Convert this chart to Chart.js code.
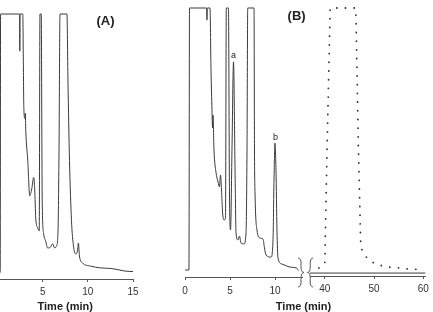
<!DOCTYPE html>
<html>
<head>
<meta charset="utf-8">
<script src="https://cdn.jsdelivr.net/npm/chart.js@4.4.1/dist/chart.umd.min.js"></script>
<style>
  html, body { margin: 0; padding: 0; background: #fff; overflow: hidden; width: 433px; height: 312px; }
  canvas { position: absolute; top: 0; }
</style>
</head>
<body>
<canvas id="chartA" width="200" height="314" style="left:-10px"></canvas>
<canvas id="chartB1" width="433" height="314" style="left:0"></canvas>
<canvas id="chartB2" width="433" height="314" style="left:0"></canvas>
<script>
// panel A - time (min) and detector signal (% of full scale, 100 = off scale)
const timeA = [0.2, 0.3, 0.34, 2.44, 2.47, 2.5, 2.8, 2.86, 2.91, 3.02, 3.08, 3.13, 3.35, 3.57, 3.79, 4.01, 4.12, 4.23, 4.45, 4.62, 4.70, 4.84, 4.95, 5.11, 5.33, 5.55, 5.88, 6.1, 6.32, 6.54, 6.7, 6.81, 6.92, 7.69, 7.8, 7.97, 8.19, 8.41, 8.63, 8.85, 8.96, 9.07, 9.4, 10.27, 11.37, 12.47, 13.24, 14.1, 15.0];
const signalA = [2.5, 2.5, 100, 100, 86, 100, 100, 82.6, 65.5, 60.6, 62.5, 56, 44.7, 31.4, 34, 38.3, 34, 23.1, 19.3, 18.2, 100, 100, 29.5, 17, 14.4, 11.7, 12.1, 13.3, 11.7, 12.5, 18.2, 48.5, 100, 100, 75, 44.7, 22, 12.5, 9.5, 10.6, 13.6, 8.7, 6.1, 4.9, 4.2, 4.0, 3.6, 3.0, 2.8];

// panel B, first part (0-13 min)
const timeB = [0, 0.44, 0.5, 2.4, 2.44, 2.48, 2.78, 2.89, 3.0, 3.06, 3.11, 3.22, 3.44, 3.67, 3.83, 3.94, 4.06, 4.17, 4.33, 4.5, 4.59, 4.83, 4.94, 5.06, 5.22, 5.39, 5.56, 5.67, 5.89, 6.06, 6.22, 6.56, 6.78, 6.89, 6.97, 7.67, 7.72, 7.78, 8.0, 8.33, 8.67, 8.83, 9.0, 9.56, 9.78, 9.89, 10.0, 10.11, 10.22, 10.33, 10.78, 11.67, 12.4, 12.6];
const signalB = [2.6, 2.6, 100, 100, 95.5, 100, 100, 77, 62, 55.4, 60.2, 47.2, 39, 35.3, 33.5, 37.9, 32.3, 24.2, 21.2, 21.9, 100, 100, 32.3, 17.5, 47.2, 80, 39.8, 16.4, 13.8, 15.2, 12.6, 12.3, 16.4, 47.2, 100, 100, 47.2, 31.2, 17.5, 14.5, 14.1, 10.8, 8.2, 7.4, 13.8, 36, 49.8, 39.8, 17.5, 7.1, 4.8, 3.7, 3.3, 2.4];

// panel B, second part (after the break): solid trace baseline and dotted trace
const timeTail = [37, 60.4];
const signalTail = [1.1, 1.1];
const timeDot = [38.8, 40.0, 40.5, 41.1, 46.3, 46.8, 47.3, 47.6, 48.4, 49.6, 51.0, 53.0, 55.0, 57.0, 60.0];
const signalDot = [3.0, 4.5, 51, 100, 100, 50, 11, 9.5, 7.1, 5.2, 4.1, 3.3, 3.0, 2.6, 2.4];

const ticksA = [0, 5, 10, 15];
const ticksB1 = [0, 5, 10];
const ticksB2 = [40, 50, 60];

const FONT = 'Liberation Sans';
const INK = '#3a3a3a';

function pts(xs, ys) {
  return xs.map((x, i) => ({ x: x, y: ys[i] }));
}

function braces(ctx, area) {
  const y0 = area.bottom - 19, y1 = area.bottom + 10, mid = (y0 + y1) / 2;
  ctx.save();
  ctx.strokeStyle = '#555';
  ctx.lineWidth = 1;
  // closing brace
  let x0 = area.right - 4, w = 6;
  ctx.beginPath();
  ctx.moveTo(x0, y0);
  ctx.quadraticCurveTo(x0 + w * 0.6, y0, x0 + w * 0.5, (y0 + mid) / 2);
  ctx.quadraticCurveTo(x0 + w * 0.45, mid, x0 + w, mid);
  ctx.quadraticCurveTo(x0 + w * 0.45, mid, x0 + w * 0.5, (mid + y1) / 2);
  ctx.quadraticCurveTo(x0 + w * 0.6, y1, x0, y1);
  ctx.stroke();
  // opening brace
  x0 = area.right + 5.5; w = 5.5;
  ctx.beginPath();
  ctx.moveTo(x0 + w, y0);
  ctx.quadraticCurveTo(x0 + w * 0.4, y0, x0 + w * 0.5, (y0 + mid) / 2);
  ctx.quadraticCurveTo(x0 + w * 0.55, mid, x0, mid);
  ctx.quadraticCurveTo(x0 + w * 0.55, mid, x0 + w * 0.5, (mid + y1) / 2);
  ctx.quadraticCurveTo(x0 + w * 0.4, y1, x0 + w, y1);
  ctx.stroke();
  ctx.restore();
}

const textMarks = {
  id: 'textMarks',
  afterDraw(chart, args, opts) {
    const ctx = chart.ctx;
    const xs = chart.scales.x, ys = chart.scales.y;
    (opts.items || []).forEach(it => {
      ctx.save();
      ctx.font = it.font;
      ctx.fillStyle = '#222';
      ctx.textAlign = 'center';
      ctx.textBaseline = 'middle';
      const px = xs.getPixelForValue(it.x);
      const py = it.py != null ? it.py : ys.getPixelForValue(it.y);
      ctx.fillText(it.text, px, py);
      ctx.restore();
    });
    if (opts.brace) braces(ctx, chart.chartArea);
  }
};

function xAxis(min, max, tickValues, scaleHeight, tickPad, title) {
  return {
    type: 'linear',
    min: min,
    max: max,
    afterBuildTicks: s => { s.ticks = tickValues.map(v => ({ value: v })); },
    afterFit: s => { s.height = scaleHeight; },
    grid: { display: true, drawOnChartArea: false, drawTicks: true, tickLength: 3, color: '#555' },
    border: { display: true, color: '#555', width: 1 },
    ticks: { font: { family: FONT, size: 10 }, color: '#333', padding: tickPad, maxRotation: 0, autoSkip: false },
    title: {
      display: !!title, text: title || '', color: '#222',
      font: { family: FONT, size: 11, weight: 'bold' }, padding: { top: 0, bottom: 0 }
    }
  };
}

function makeChart(id, datasets, xScale, padding, notes) {
  return new Chart(document.getElementById(id), {
    type: 'line',
    data: { datasets: datasets },
    options: {
      responsive: false,
      animation: false,
      layout: { padding: padding },
      elements: { point: { radius: 0 } },
      scales: {
        x: xScale,
        y: { display: false, min: 0, max: 100 }
      },
      plugins: {
        legend: { display: false },
        tooltip: { enabled: false },
        textMarks: notes
      }
    },
    plugins: [textMarks]
  });
}

function solid(xs, ys) {
  return {
    data: pts(xs, ys), borderColor: INK, borderWidth: 1,
    cubicInterpolationMode: 'monotone', clip: false
  };
}

// (A)
makeChart('chartA', [solid(timeA, signalA)],
  xAxis(0, 15, ticksA, 35, 4, 'Time (min)'),
  { left: 7.5, right: 57, top: 14, bottom: 0 },
  { items: [{ text: '(A)', x: 11.95, py: 21.5, font: 'bold 13px ' + FONT }] });

// (B) 0-13 min
makeChart('chartB1', [solid(timeB, signalB)],
  xAxis(0, 13, ticksB1, 37, 5),
  { left: 185, right: 131, top: 8, bottom: 0 },
  {
    brace: true,
    items: [
      { text: '(B)', x: 12.4, py: 16.5, font: 'bold 13px ' + FONT },
      { text: 'a', x: 5.39, y: 82.5, font: '9px ' + FONT },
      { text: 'b', x: 10.05, y: 52, font: '9px ' + FONT },
      { text: 'Time (min)', x: 13.17, py: 307.4, font: 'bold 11px ' + FONT }
    ]
  });

// (B) after the axis break
makeChart('chartB2', [
    solid(timeTail, signalTail),
    {
      data: pts(timeDot, signalDot), borderColor: '#333', borderWidth: 1.8,
      borderDash: [0.1, 8.6], borderCapStyle: 'round', tension: 0, clip: false
    }
  ],
  xAxis(37, 60.4, ticksB2, 38, 4),
  { left: 310, right: 6, top: 8, bottom: 0 },
  { items: [] });
</script>
</body>
</html>
